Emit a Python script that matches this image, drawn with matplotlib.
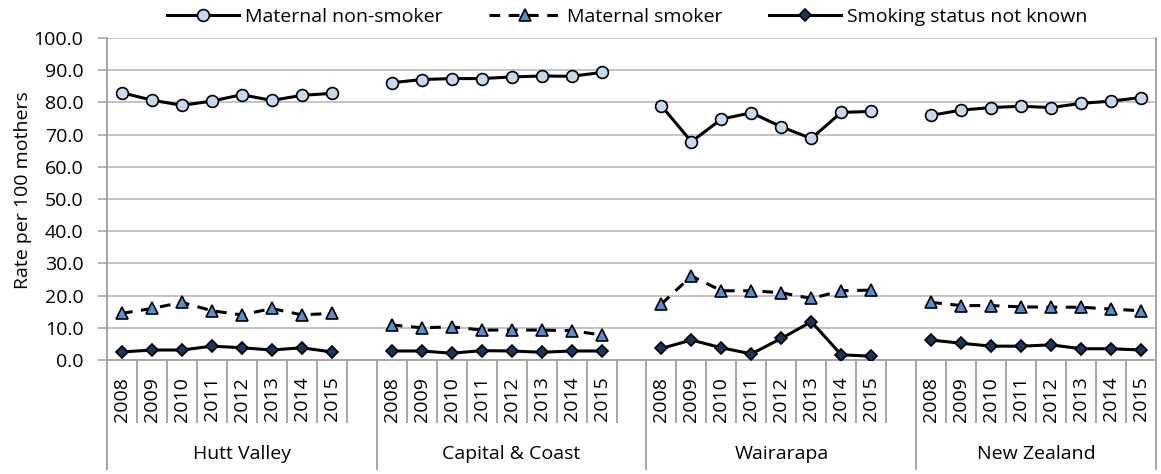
import matplotlib
matplotlib.use("Agg")
import matplotlib.pyplot as plt
import matplotlib.transforms as mtransforms
import numpy as np

plt.rcParams['font.family'] = ['Open Sans', 'DejaVu Sans']

years = ["2008", "2009", "2010", "2011", "2012", "2013", "2014", "2015"]
regions = ["Hutt Valley", "Capital & Coast", "Wairarapa", "New Zealand"]

# rates per 100 mothers, one row of 8 years per region
non_smoker = [
    [83.0, 80.7, 79.1, 80.4, 82.4, 80.6, 82.2, 82.8],
    [86.1, 87.1, 87.4, 87.4, 87.9, 88.2, 88.1, 89.3],
    [78.9, 67.8, 74.8, 76.8, 72.4, 68.8, 76.9, 77.2],
    [76.0, 77.6, 78.4, 78.8, 78.4, 79.7, 80.4, 81.5],
]
smoker = [
    [14.5, 16.0, 17.9, 15.3, 14.0, 16.0, 14.0, 14.5],
    [10.9, 10.0, 10.3, 9.3, 9.3, 9.3, 9.1, 7.8],
    [17.4, 26.1, 21.5, 21.5, 20.9, 19.1, 21.5, 21.7],
    [17.9, 16.9, 16.9, 16.5, 16.4, 16.4, 15.8, 15.3],
]
not_known = [
    [2.5, 3.1, 3.1, 4.3, 3.8, 3.1, 3.8, 2.5],
    [2.8, 2.8, 2.1, 2.9, 2.8, 2.4, 2.8, 2.8],
    [3.6, 6.2, 3.8, 1.9, 6.7, 11.9, 1.6, 1.2],
    [6.2, 5.2, 4.3, 4.3, 4.7, 3.5, 3.5, 3.1],
]

GRID = "#BFBFBF"
AXIS = "#A6A6A6"
FS = 14

fig = plt.figure(figsize=(11.61, 4.74), dpi=100)
ax = fig.add_axes([107 / 1161, 114 / 474, 1049 / 1161, 322 / 474])

series = [
    ("Maternal non-smoker", non_smoker, dict(marker="o", ms=8.5, mfc="#C6D9F1", ls="-")),
    ("Maternal smoker", smoker, dict(marker="^", ms=8, mfc="#558ED5", ls=(0, (3.5, 2.8)))),
    ("Smoking status not known", not_known, dict(marker="D", ms=6.5, mfc="#17365D", ls="-")),
]

slot = len(years) + 1
for name, data, style in series:
    for g, vals in enumerate(data):
        x = g * slot + np.arange(len(years))
        ax.plot(x, vals, color="black", lw=2.2, mec="black", mew=1.2,
                label=name if g == 0 else "_nolegend_", zorder=3, **style)

n_slots = slot * len(regions) - 1
ax.set_xlim(-0.5, n_slots - 0.5)
ax.set_ylim(0, 100)
ax.set_yticks(np.arange(0, 101, 10))
ax.set_yticklabels([f"{v:.1f}" for v in np.arange(0, 101, 10)], fontsize=FS)
ax.yaxis.grid(True, color=GRID, lw=1.3)
ax.set_axisbelow(True)
ax.tick_params(axis="y", length=6.5, width=1.2, color=AXIS, pad=10.5)

ax.spines["top"].set_visible(False)
for s in ["left", "bottom", "right"]:
    ax.spines[s].set_color(AXIS)
    ax.spines[s].set_linewidth(1.4)

# category axis: years and region groups
xt = [g * slot + i for g in range(len(regions)) for i in range(len(years))]
ax.set_xticks(xt)
ax.set_xticklabels(years * len(regions), rotation=90, fontsize=FS)
ax.tick_params(axis="x", length=0, pad=12)

trans = mtransforms.blended_transform_factory(ax.transData, ax.transAxes)
for b in np.arange(-0.5, n_slots, 1.0):
    group_edge = b == -0.5 or b == n_slots - 0.5 or (b + 0.5) % slot == 0
    low = -0.338 if group_edge else -0.193
    ax.plot([b, b], [0, low], color=AXIS, lw=1.4, transform=trans, clip_on=False)

for g, name in enumerate(regions):
    start = g * slot - 0.5
    end = min(start + slot, n_slots - 0.5)
    ax.text((start + end) / 2, -0.292, name, transform=trans, ha="center",
            va="center", fontsize=FS)

fig.text(23 / 1161, 1 - 190 / 474, "Rate per 100 mothers", rotation=90,
         ha="center", va="center", fontsize=FS)

ax.legend(loc="center", bbox_to_anchor=(0.54, (474 - 17) / 474),
          bbox_transform=fig.transFigure, ncol=3, frameon=False, fontsize=FS,
          handlelength=3.7, columnspacing=2.4, handletextpad=0.3)

fig.savefig("out.png", dpi=100, facecolor="white")
